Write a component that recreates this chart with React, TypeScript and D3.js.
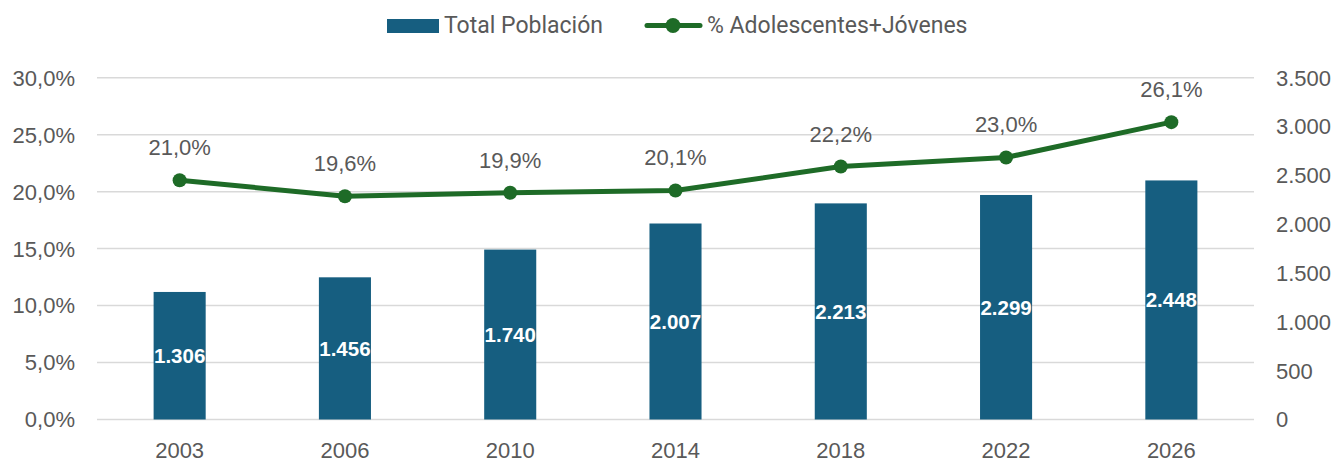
import React from "react";
import * as d3 from "d3";

const categories = ["2003", "2006", "2010", "2014", "2018", "2022", "2026"];
const totalPoblacion = [1306, 1456, 1740, 2007, 2213, 2299, 2448];
const pctAdolescentes = [21.0, 19.6, 19.9, 20.1, 22.2, 23.0, 26.1];
const leftTicks = [0, 5, 10, 15, 20, 25, 30];
const rightTicks = [0, 500, 1000, 1500, 2000, 2500, 3000, 3500];

const W = 1338;
const H = 472;
const M = { left: 97, right: 1254, top: 77.7, bottom: 419.5 };
const BAR_COLOR = "#165E80";
const LINE_COLOR = "#1E6B27";
const TEXT = "#595959";
const FONT = "'Liberation Sans', Arial, sans-serif";
const LEGEND_FONT = "Roboto, sans-serif";

const fmtPct = (v: number) => v.toFixed(1).replace(".", ",") + "%";
const fmtNum = (v: number) => d3.format(",")(v).replace(/,/g, ".");

export default function App() {
  const x = d3.scaleBand<string>().domain(categories).range([M.left, M.right]).paddingInner(0.685).paddingOuter(0.3425);
  const yL = d3.scaleLinear().domain([0, 30]).range([M.bottom, M.top]);
  const yR = d3.scaleLinear().domain([0, 3500]).range([M.bottom, M.top]);
  const cx = (c: string) => (x(c) as number) + x.bandwidth() / 2;
  const line = d3
    .line<number>()
    .x((_, i) => cx(categories[i]))
    .y((d) => yL(d));

  return (
    <svg width={W} height={H} style={{ position: "absolute", left: 0, top: 0, background: "#fff" }}>
      {/* gridlines */}
      {leftTicks.map((t) => (
        <line key={"g" + t} x1={M.left} x2={M.right} y1={yL(t)} y2={yL(t)} stroke="#D9D9D9" strokeWidth={1.5} />
      ))}
      {/* left axis */}
      {leftTicks.map((t) => (
        <text key={"l" + t} x={75} y={yL(t)} dy="0.36em" textAnchor="end" fontFamily={FONT} fontSize={22} fill={TEXT}>
          {fmtPct(t)}
        </text>
      ))}
      {/* right axis */}
      {rightTicks.map((t) => (
        <text key={"r" + t} x={1276} y={yR(t)} dy="0.36em" textAnchor="start" fontFamily={FONT} fontSize={22} fill={TEXT}>
          {fmtNum(t)}
        </text>
      ))}
      {/* x labels */}
      {categories.map((c) => (
        <text key={"x" + c} x={cx(c)} y={458} textAnchor="middle" fontFamily={FONT} fontSize={22} fill={TEXT}>
          {c}
        </text>
      ))}
      {/* bars */}
      {totalPoblacion.map((v, i) => (
        <rect key={"b" + i} x={x(categories[i])} y={yR(v)} width={x.bandwidth()} height={yR(0) - yR(v)} fill={BAR_COLOR} />
      ))}
      {totalPoblacion.map((v, i) => (
        <text
          key={"bl" + i}
          x={cx(categories[i])}
          y={(yR(v) + yR(0)) / 2}
          dy="0.36em"
          textAnchor="middle"
          fontFamily={FONT}
          fontWeight="bold"
          fontSize={20.5}
          fill="#fff"
        >
          {fmtNum(v)}
        </text>
      ))}
      {/* line */}
      <path d={line(pctAdolescentes) as string} fill="none" stroke={LINE_COLOR} strokeWidth={5} strokeLinejoin="round" />
      {pctAdolescentes.map((v, i) => (
        <circle key={"p" + i} cx={cx(categories[i])} cy={yL(v)} r={7} fill={LINE_COLOR} />
      ))}
      {pctAdolescentes.map((v, i) => (
        <text key={"pl" + i} x={cx(categories[i])} y={yL(v) - 25} textAnchor="middle" fontFamily={FONT} fontSize={22} fill={TEXT}>
          {fmtPct(v)}
        </text>
      ))}
      {/* legend */}
      <rect x={387} y={19} width={52} height={14} fill={BAR_COLOR} />
      <text x={444} y={33} fontFamily={LEGEND_FONT} fontSize={23} fill={TEXT}>
        Total Población
      </text>
      <line x1={647} x2={700} y1={25.5} y2={25.5} stroke={LINE_COLOR} strokeWidth={5} strokeLinecap="round" />
      <circle cx={673} cy={25.5} r={7.5} fill={LINE_COLOR} />
      <text x={707} y={33} fontFamily={LEGEND_FONT} fontSize={23} fill={TEXT}>
        % Adolescentes+Jóvenes
      </text>
    </svg>
  );
}
